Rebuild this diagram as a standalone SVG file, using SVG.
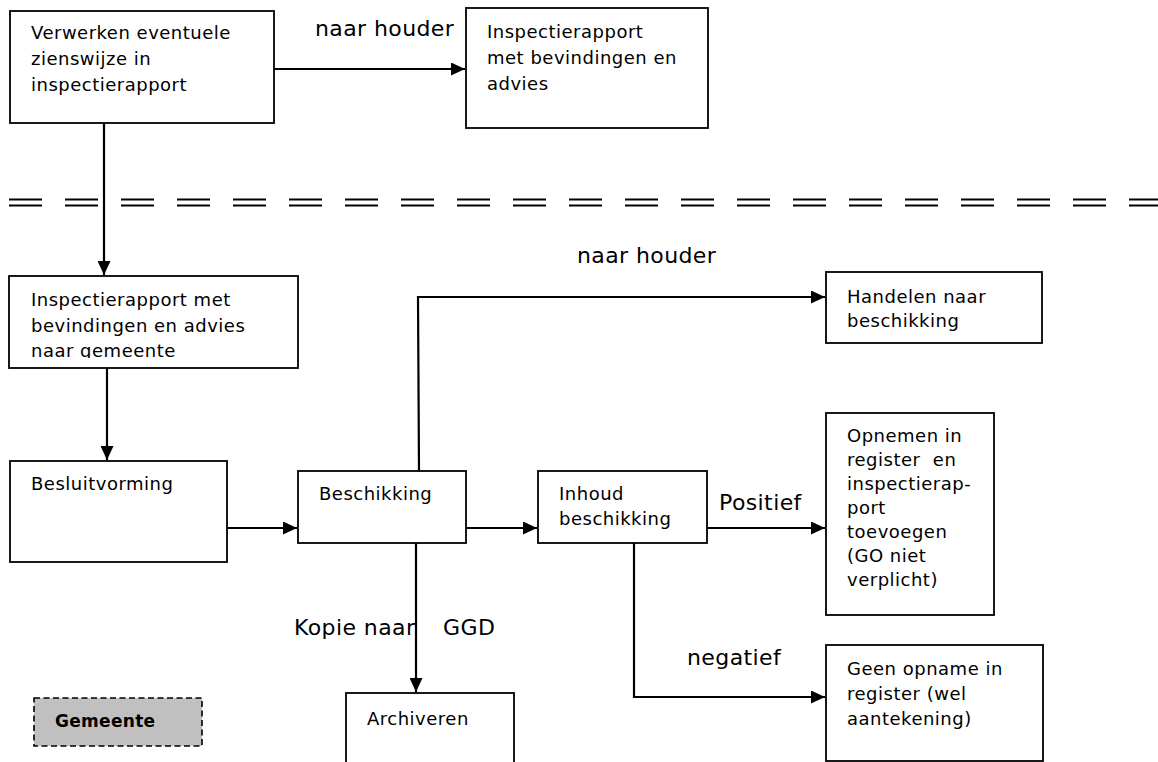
<svg xmlns="http://www.w3.org/2000/svg" width="1158" height="762" viewBox="0 0 1158 762">
<style>
  .box { fill: #ffffff; stroke: #000000; stroke-width: 1.8; }
  .leg { fill: #c0c0c0; stroke: #000000; stroke-width: 1.6; stroke-dasharray: 6 3.5; }
  .t { font-family: "DejaVu Sans", sans-serif; font-size: 18px; letter-spacing: 0.5px; fill: #000000; }
  .tb { font-family: "DejaVu Sans", sans-serif; font-size: 17px; font-weight: bold; letter-spacing: 0.3px; fill: #000000; }
  .lbl { font-family: "DejaVu Sans", sans-serif; font-size: 22px; letter-spacing: 0.4px; fill: #000000; }
  .c { fill: none; stroke: #000000; stroke-width: 2.2; }
  .sep { fill: none; stroke: #000000; stroke-width: 2.2; stroke-dasharray: 33 23; }
</style>
<defs>
  <marker id="arr" markerUnits="userSpaceOnUse" markerWidth="15" markerHeight="13" refX="14" refY="6.5" orient="auto">
    <path d="M0,0 L14,6.5 L0,13 z" fill="#000000"/>
  </marker>
  <clipPath id="clip3">
    <rect x="9" y="276" width="289" height="82"/>
  </clipPath>
</defs>
<rect width="1158" height="762" fill="#ffffff"/>

<g id="separator">
  <line class="sep" x1="9" y1="199.5" x2="1158" y2="199.5"/>
  <line class="sep" x1="9" y1="205.5" x2="1158" y2="205.5"/>
</g>

<g id="connectors">
  <line class="c" x1="274" y1="69" x2="465" y2="69" marker-end="url(#arr)"/>
  <line class="c" x1="104" y1="123" x2="104" y2="275" marker-end="url(#arr)"/>
  <line class="c" x1="107" y1="368" x2="107" y2="460" marker-end="url(#arr)"/>
  <line class="c" x1="227" y1="528" x2="297" y2="528" marker-end="url(#arr)"/>
  <line class="c" x1="466" y1="528" x2="537" y2="528" marker-end="url(#arr)"/>
  <line class="c" x1="707" y1="528" x2="825" y2="528" marker-end="url(#arr)"/>
  <polyline class="c" points="419,471 418,297 825,297" marker-end="url(#arr)"/>
  <line class="c" x1="416" y1="543" x2="416" y2="692" marker-end="url(#arr)"/>
  <polyline class="c" points="634,543 634,697 825,697" marker-end="url(#arr)"/>
  <text class="lbl" x="315" y="36">naar houder</text>
  <text class="lbl" x="577" y="263">naar houder</text>
  <text class="lbl" x="719" y="510">Positief</text>
  <text class="lbl" x="687" y="665">negatief</text>
  <text class="lbl" x="294" y="635">Kopie naar<tspan x="443">GGD</tspan></text>
</g>

<g id="verwerken">
  <rect class="box" x="10" y="11" width="264" height="112"/>
  <text class="t" x="31" y="39">Verwerken eventuele</text>
  <text class="t" x="31" y="65">zienswijze in</text>
  <text class="t" x="31" y="91">inspectierapport</text>
</g>

<g id="rapport-top">
  <rect class="box" x="466" y="8" width="242" height="120"/>
  <text class="t" x="487" y="38">Inspectierapport</text>
  <text class="t" x="487" y="64">met bevindingen en</text>
  <text class="t" x="487" y="90">advies</text>
</g>

<g id="rapport-gemeente">
  <rect class="box" x="9" y="276" width="289" height="92"/>
  <g clip-path="url(#clip3)">
    <text class="t" x="31" y="306">Inspectierapport met</text>
    <text class="t" x="31" y="332">bevindingen en advies</text>
    <text class="t" x="31" y="357">naar gemeente</text>
  </g>
</g>

<g id="besluitvorming">
  <rect class="box" x="10" y="461" width="217" height="101"/>
  <text class="t" x="31" y="490">Besluitvorming</text>
</g>

<g id="beschikking">
  <rect class="box" x="298" y="471" width="168" height="72"/>
  <text class="t" x="319" y="500">Beschikking</text>
</g>

<g id="inhoud">
  <rect class="box" x="538" y="471" width="169" height="72"/>
  <text class="t" x="559" y="500">Inhoud</text>
  <text class="t" x="559" y="525">beschikking</text>
</g>

<g id="handelen">
  <rect class="box" x="826" y="272" width="216" height="71"/>
  <text class="t" x="847" y="303">Handelen naar</text>
  <text class="t" x="847" y="327">beschikking</text>
</g>

<g id="opnemen">
  <rect class="box" x="826" y="413" width="168" height="202"/>
  <text class="t" x="847" y="442">Opnemen in</text>
  <text class="t" x="847" y="466" xml:space="preserve">register  en</text>
  <text class="t" x="847" y="490">inspectierap-</text>
  <text class="t" x="847" y="514">port</text>
  <text class="t" x="847" y="538">toevoegen</text>
  <text class="t" x="847" y="562">(GO niet</text>
  <text class="t" x="847" y="586">verplicht)</text>
</g>

<g id="geen-opname">
  <rect class="box" x="826" y="645" width="217" height="116"/>
  <text class="t" x="847" y="675">Geen opname in</text>
  <text class="t" x="847" y="700">register (wel</text>
  <text class="t" x="847" y="725">aantekening)</text>
</g>

<g id="archiveren">
  <rect class="box" x="346" y="693" width="168" height="80"/>
  <text class="t" x="367" y="725">Archiveren</text>
</g>

<g id="legend-gemeente">
  <rect class="leg" x="34" y="698" width="168" height="48"/>
  <text class="tb" x="55" y="727">Gemeente</text>
</g>
</svg>
